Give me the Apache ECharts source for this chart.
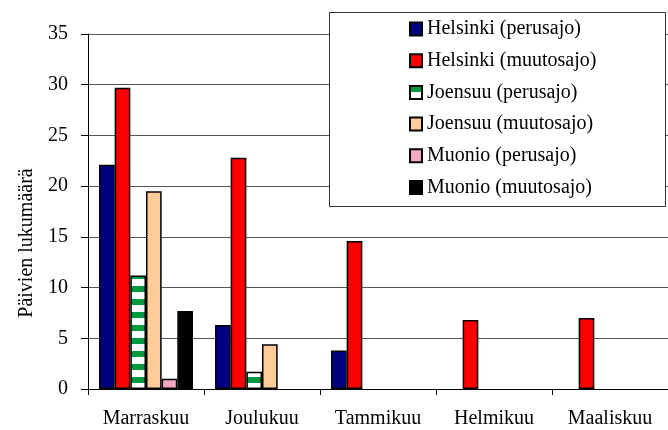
<!DOCTYPE html>
<html>
<head>
<meta charset="utf-8">
<script src="https://cdn.jsdelivr.net/npm/echarts@6/dist/echarts.min.js"></script>
<style>
  html, body { margin: 0; padding: 0; background: #fff; }
  #chart { width: 668px; height: 430px; }
</style>
</head>
<body>
<div id="chart"></div>
<script>
// Months on the category axis
const months = ['Marraskuu', 'Joulukuu', 'Tammikuu', 'Helmikuu', 'Maaliskuu'];

// Number of days per month for each run (null = no bar)
const helsinkiPerus  = [22.1, 6.3, 3.8, null, null];
const helsinkiMuutos = [29.7, 22.8, 14.6, 6.8, 7.0];
const joensuuPerus   = [11.2, 1.7, null, null, null];
const joensuuMuutos  = [19.5, 4.4, null, null, null];
const muonioPerus    = [1.0, null, null, null, null];
const muonioMuutos   = [7.7, null, null, null, null];

const yTicks = { min: 0, max: 35, step: 5 };
const yTitle = 'Päivien lukumäärä';

// Horizontal green/white stripe fill
function stripePattern() {
  const c = document.createElement('canvas');
  c.width = 4; c.height = 13;
  const g = c.getContext('2d');
  g.fillStyle = '#ffffff';
  g.fillRect(0, 0, 4, 13);
  g.fillStyle = '#00993f';
  g.fillRect(0, 0, 4, 6);
  return { image: c, repeat: 'repeat' };
}

const FONT = 'Liberation Serif, Times New Roman, serif';
const edge = { borderColor: '#000', borderWidth: 1.5 };

function bar(name, data, color) {
  return {
    name, type: 'bar', data,
    barGap: '0%', barCategoryGap: '19%',
    itemStyle: Object.assign({ color }, edge),
    emphasis: { disabled: true }
  };
}

const chart = echarts.init(document.getElementById('chart'), null, { renderer: 'canvas' });
chart.setOption({
  animation: false,
  backgroundColor: '#fff',
  textStyle: { fontFamily: FONT },
  grid: { left: 88, right: 0, top: 34, bottom: 41, containLabel: false },
  xAxis: {
    type: 'category',
    data: months,
    axisLine: { lineStyle: { color: '#000', width: 1 } },
    axisTick: { show: true, length: 6, lineStyle: { color: '#000' } },
    axisLabel: { color: '#000', fontSize: 20, fontFamily: FONT, margin: 20 }
  },
  yAxis: {
    type: 'value',
    min: yTicks.min, max: yTicks.max, interval: yTicks.step,
    axisLine: { show: true, lineStyle: { color: '#000', width: 1 } },
    axisTick: { show: true, length: 7, lineStyle: { color: '#000' } },
    axisLabel: { color: '#000', fontSize: 20, fontFamily: FONT, margin: 20 },
    splitLine: { show: true, lineStyle: { color: '#555', width: 1 } }
  },
  legend: {
    orient: 'vertical',
    left: 409, top: 19,
    padding: 0,
    itemWidth: 12, itemHeight: 13,
    itemGap: 11.7,
    icon: 'rect',
    textStyle: { color: '#000', fontSize: 20, fontFamily: FONT },
    selectedMode: false,
    z: 5
  },
  graphic: [
    {
      type: 'rect', z: 4,
      shape: { x: 329.5, y: 12.5, width: 336, height: 194 },
      style: { fill: '#fff', stroke: '#333', lineWidth: 1 }
    },
    {
      type: 'text', z: 5,
      x: 27, y: 243, rotation: Math.PI / 2,
      style: {
        text: yTitle, fill: '#000', fontSize: 20, fontFamily: FONT,
        align: 'center', verticalAlign: 'middle'
      }
    }
  ],
  series: [
    bar('Helsinki (perusajo)', helsinkiPerus, '#000080'),
    bar('Helsinki (muutosajo)', helsinkiMuutos, '#ff0000'),
    bar('Joensuu (perusajo)', joensuuPerus, stripePattern()),
    bar('Joensuu (muutosajo)', joensuuMuutos, '#ffcc99'),
    bar('Muonio (perusajo)', muonioPerus, '#f4a9c0'),
    bar('Muonio (muutosajo)', muonioMuutos, '#000000')
  ]
});
</script>
</body>
</html>
